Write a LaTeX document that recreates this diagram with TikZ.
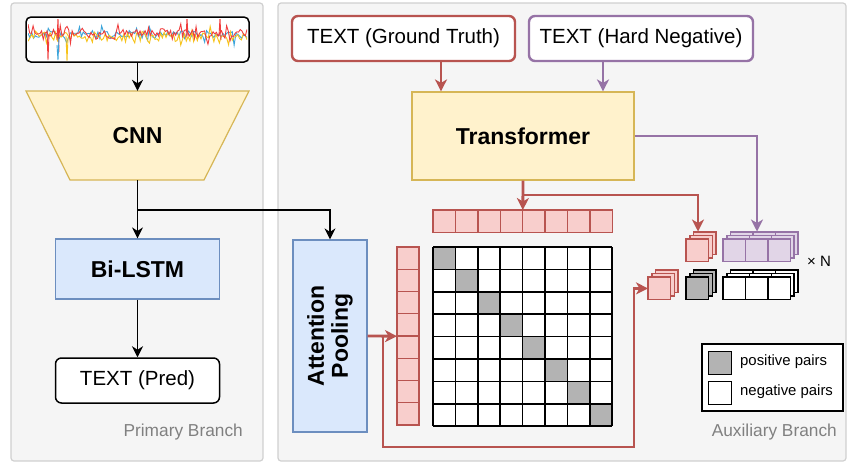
\documentclass[tikz,border=0pt]{standalone}
\usepackage{fontspec}
\setmainfont{Liberation Sans}
\usetikzlibrary{arrows.meta}

\definecolor{panelfill}{HTML}{F5F5F5}
\definecolor{panelline}{HTML}{D0D0D0}
\definecolor{yfill}{HTML}{FFF2CC}
\definecolor{yline}{HTML}{D6B656}
\definecolor{bfill}{HTML}{DAE8FC}
\definecolor{bline}{HTML}{6C8EBF}
\definecolor{rline}{HTML}{B85450}
\definecolor{rfill}{HTML}{F8CECC}
\definecolor{pline}{HTML}{9673A6}
\definecolor{pfill}{HTML}{E1D5E7}
\definecolor{posgray}{HTML}{B3B3B3}
\definecolor{labelgray}{HTML}{808080}
\definecolor{sigred}{HTML}{F03C3C}
\definecolor{sigblue}{HTML}{3BA4DA}
\definecolor{sigyellow}{HTML}{F7C31A}

\tikzset{
  panel/.style={draw=panelline, fill=panelfill, line width=1.2pt, rounded corners=3pt},
  yellowbox/.style={draw=yline, fill=yfill, line width=1.2pt, inner sep=0},
  bluebox/.style={draw=bline, fill=bfill, line width=1.2pt, inner sep=0},
  boldlabel/.style={font=\fontsize{23}{27}\selectfont\bfseries},
  textbox/.style={draw, fill=white, rounded corners=6pt, inner sep=0,
    line width=1.5pt, font=\fontsize{20.5}{24}\selectfont},
  gtbox/.style={textbox, draw=rline, line width=2.4pt},
  hnbox/.style={textbox, draw=pline, line width=2.4pt},
  blackarrow/.style={line width=1.6pt, -{Stealth[length=11pt,width=11pt,inset=3.5pt]}},
  redarrow/.style={draw=rline, line width=2.8pt, -{Stealth[length=12pt,width=12pt,inset=3.5pt]}},
  purplearrow/.style={draw=pline, line width=2.8pt, -{Stealth[length=12pt,width=12pt,inset=3.5pt]}},
  vcell/.style={draw=rline, fill=rfill, line width=1.4pt},
  branchlabel/.style={text=labelgray, font=\fontsize{17.3}{20}\selectfont, inner sep=0},
  legendlabel/.style={font=\fontsize{14.9}{18}\selectfont, inner sep=0, anchor=west},
}

% a row of #3 stacked embedding cells, front row top-left at (#1,#2)
\newcommand{\cellrow}[6]{%
  \foreach \k in {2,1,0}{
    \foreach \i in {1,...,#3}{
      \draw[fill=#4, draw=#5, line width=1.4pt]
        ({#1+22.4*(\i-1)+3.8*\k},{#2-3.6*\k}) rectangle ++(22.4,22.4);
    }
  }
  \node[inner sep=0, minimum width={#3*22.4pt}, minimum height=22.4pt,
        anchor=north west] (#6) at (#1,#2) {};
}

\begin{document}
\begin{tikzpicture}[x=1pt, y=-1pt]
\useasboundingbox (0,0) rectangle (849,464);

% ---------- branch panels ----------
\draw[panel] (11,3) rectangle (263,461);
\draw[panel] (278,3) rectangle (846,461);

% ---------- primary branch ----------
\node[draw, fill=white, rounded corners=5pt, line width=1.5pt, inner sep=0,
      minimum width=223pt, minimum height=45pt] (sigbox) at (137.5,39.5) {};
\begin{scope}
  \clip (28,19) rectangle (247,60);
  \pgfmathsetseed{11}
  \draw[sigblue, line width=0.9pt] plot[domain=28:247, samples=120]
    (\x, {35 + 3.5*rand + 18*rand*rand*rand*rand});
  \draw[sigyellow, line width=0.9pt] plot[domain=28:247, samples=120]
    (\x, {37 + 5*rand + 20*rand*rand*rand*rand});
  \draw[sigred, line width=0.9pt] plot[domain=28:247, samples=130]
    (\x, {34 + 4.5*rand + 22*rand*rand*rand*rand});
  \draw[sigred, line width=0.9pt] (47,30) -- (48,60) -- (49,34);
  \draw[sigred, line width=0.9pt] (57,40) -- (58,18) -- (59,52);
  \draw[sigred, line width=0.9pt] (186,38) -- (187,18) -- (188,36);
  \draw[sigred, line width=0.9pt] (219,36) -- (220,18) -- (221,40);
  \draw[sigblue, line width=0.9pt] (57,45) -- (58,60) -- (59,38);
  \draw[sigyellow, line width=0.9pt] (66,36) -- (67,61) -- (68,38);
\end{scope}

\draw[yellowbox] (26,91) -- (249,91) -- (204,180) -- (70,180) -- cycle;
\node[boldlabel, inner sep=0, minimum width=223pt, minimum height=89pt]
  (cnn) at (137.5,135.5) {CNN};

\node[bluebox, boldlabel, minimum width=164pt, minimum height=60pt]
  (bilstm) at (137.5,269) {Bi-LSTM};
\node[textbox, minimum width=164pt, minimum height=45pt]
  (pred) at (137.5,380.5) {TEXT (Pred)};

\node[branchlabel, anchor=east] (primlabel) at (243,432) {Primary Branch};

% ---------- auxiliary branch ----------
\node[gtbox, minimum width=223pt, minimum height=45pt]
  (gt) at (403.5,38.5) {TEXT (Ground Truth)};
\node[hnbox, minimum width=224pt, minimum height=45pt]
  (hn) at (641,38.5) {TEXT (Hard Negative)};

\node[yellowbox, boldlabel, minimum width=222pt, minimum height=88pt]
  (trans) at (523,136) {Transformer};

\node[bluebox, minimum width=74pt, minimum height=192pt]
  (attn) at (330,336) {};
\node[boldlabel, rotate=90, align=center, inner sep=0]
  (attntext) at (330,336) {Attention\\[-3pt]Pooling};

% text embedding vector (top)
\foreach \i in {0,...,7}
  \draw[vcell] ({433+22.4*\i},210) rectangle ++(22.4,22.4);
\node[inner sep=0, minimum width=179.2pt, minimum height=22.4pt,
      anchor=north west] (topvec) at (433,210) {};

% signal embedding vector (left)
\foreach \i in {0,...,7}
  \draw[vcell] (397,{247+22.25*\i}) rectangle ++(22,22.25);
\node[inner sep=0, minimum width=22pt, minimum height=178pt,
      anchor=north west] (leftvec) at (397,247) {};

% similarity matrix
\fill[white] (433,247) rectangle (612.2,426.2);
\foreach \i in {0,...,7}
  \fill[posgray] ({433+22.4*\i},{247+22.4*\i}) rectangle ++(22.4,22.4);
\foreach \i in {0,...,8}{
  \draw[line width=1.5pt] ({433+22.4*\i},247) -- ++(0,179.2);
  \draw[line width=1.5pt] (433,{247+22.4*\i}) -- ++(179.2,0);
}
\node[inner sep=0, minimum width=179.2pt, minimum height=179.2pt,
      anchor=north west] (simmat) at (433,247) {};

% stacked embeddings
\cellrow{686}{239}{1}{rfill}{rline}{gtstack}
\cellrow{723}{239}{3}{pfill}{pline}{hnstack}
\cellrow{648}{277}{1}{rfill}{rline}{sigstack}
\cellrow{686}{277}{1}{posgray}{black}{posstack}
\cellrow{723}{277}{3}{white}{black}{negstack}
\node[font=\fontsize{15}{18}\selectfont, inner sep=0] (times) at (819,261) {× N};

% legend
\node[draw, fill=white, line width=1.5pt, inner sep=0, minimum width=141pt,
      minimum height=67pt, anchor=north west] (legend) at (701,343) {};
\node[draw, fill=posgray, line width=1.4pt, inner sep=0, minimum size=22.5pt,
      anchor=north west] (legpos) at (708,351) {};
\node[draw, fill=white, line width=1.4pt, inner sep=0, minimum size=22.5pt,
      anchor=north west] (legneg) at (708,381) {};
\node[legendlabel] (legposlabel) at (740,362) {positive pairs};
\node[legendlabel] (legneglabel) at (740,392) {negative pairs};

\node[branchlabel, anchor=east] (auxlabel) at (837,432) {Auxiliary Branch};

% ---------- connectors ----------
\coordinate (split) at (137.5,210);
\coordinate (tsplit) at (523,195);
\coordinate (gtin) at (698,231.5);
\coordinate (hnin) at (757,231.5);
\coordinate (asplit) at (383,336);
\coordinate (lowturn) at (634,447);

\draw[blackarrow] (sigbox.south) -- (cnn.north);
\draw[blackarrow] (cnn.south) -- (bilstm.north);
\draw[blackarrow] (bilstm.south) -- (pred.north);
\draw[blackarrow] (split) -| (attn.north);

\draw[redarrow] (gt.south -| 441,0) -- (trans.north -| 441,0);
\draw[purplearrow] (hn.south -| 603,0) -- (trans.north -| 603,0);

\draw[redarrow] (trans.south) -- (topvec.north);
\draw[redarrow] (tsplit) -| (gtin);
\draw[purplearrow] (trans.east) -| (hnin);

\draw[redarrow] (attn.east) -- (leftvec.west);
\draw[redarrow] (asplit) |- (lowturn) |- (sigstack.west);
\end{tikzpicture}
\end{document}
